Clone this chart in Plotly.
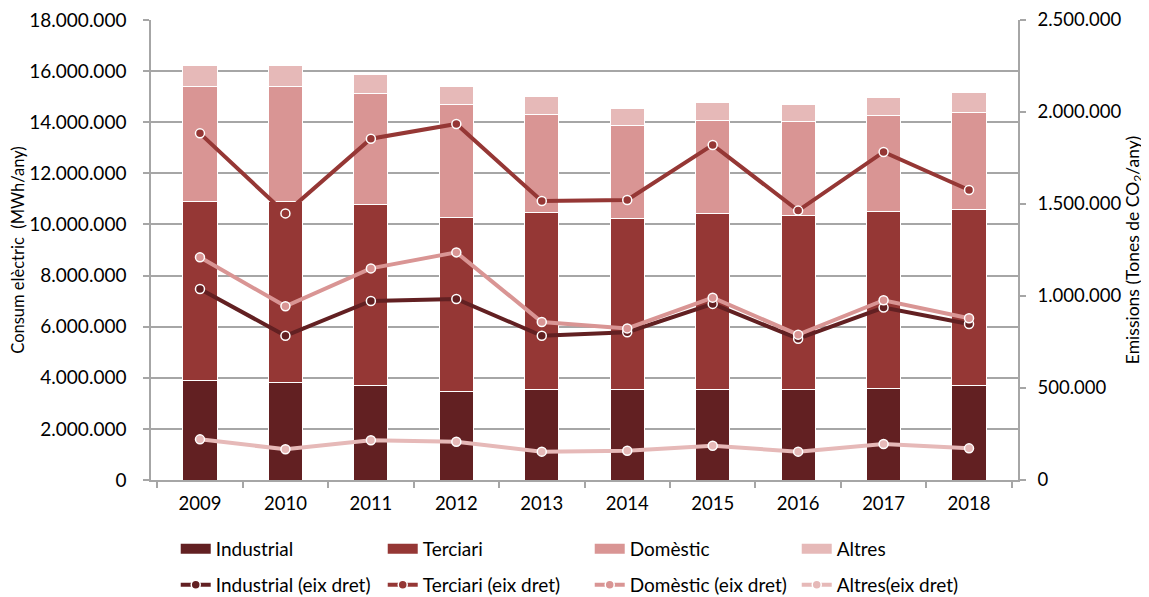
import plotly.graph_objects as go

# --- dades -------------------------------------------------
years = ["2009", "2010", "2011", "2012", "2013", "2014", "2015", "2016", "2017", "2018"]

# consum elèctric (MWh/any), barres apilades
industrial = [3880000, 3800000, 3690000, 3450000, 3550000, 3530000, 3530000, 3530000, 3570000, 3690000]
terciari   = [7000000, 7090000, 7080000, 6840000, 6900000, 6720000, 6890000, 6810000, 6920000, 6900000]
domestic   = [4530000, 4520000, 4370000, 4410000, 3860000, 3630000, 3660000, 3690000, 3780000, 3810000]
altres     = [810000, 810000, 740000, 700000, 700000, 660000, 710000, 650000, 700000, 750000]

# emissions (tones CO2/any), eix dret
industrial_em = [1038000, 784000, 973000, 984000, 784000, 803000, 957000, 768000, 937000, 848000]
terciari_em   = [1884000, 1449000, 1855000, 1935000, 1516000, 1522000, 1821000, 1464000, 1783000, 1576000]
domestic_em   = [1210000, 944000, 1150000, 1237000, 859000, 824000, 991000, 790000, 977000, 879000]
altres_em     = [221000, 167000, 216000, 208000, 154000, 159000, 186000, 154000, 196000, 172000]

bar_names = ["Industrial", "Terciari", "Domèstic", "Altres"]
line_names = ["Industrial (eix dret)", "Terciari (eix dret)", "Domèstic (eix dret)", "Altres(eix dret)"]
colors = ["#622022", "#953735", "#D99594", "#E6B9B8"]

FONT = "Lato"
AXIS_GRAY = "#A6A6A6"

fig = go.Figure()

# barres apilades (sense llegenda pròpia: la llegenda va amb traces de mostra)
for name, vals, c in zip(bar_names, [industrial, terciari, domestic, altres], colors):
    fig.add_trace(go.Bar(
        x=years, y=vals, name=name, width=0.4,
        marker=dict(color=c, line=dict(color="white", width=1)),
        showlegend=False,
    ))
    # mostra de llegenda: rectangle ample com a Excel
    fig.add_trace(go.Scatter(
        x=[None], y=[None], mode="lines", name=name,
        line=dict(color=c, width=10), legend="legend",
    ))

# línies d'emissions a l'eix dret
for name, vals, c in zip(line_names, [industrial_em, terciari_em, domestic_em, altres_em], colors):
    fig.add_trace(go.Scatter(
        x=years, y=vals, name=name, yaxis="y2",
        mode="lines+markers",
        line=dict(color=c, width=4),
        marker=dict(size=9, color=c, line=dict(color="white", width=1.5)),
        legend="legend2",
    ))

# la pàgina té 8px de marge al body -> figura una mica més petita
fig.update_layout(
    barmode="stack",
    width=1141, height=589,
    margin=dict(l=143, r=131, t=12, b=117, autoexpand=False),
    plot_bgcolor="white", paper_bgcolor="white",
    separators=",.",
    font=dict(family=FONT, size=19, color="black"),
    xaxis=dict(
        type="category", automargin=False,
        showline=True, linecolor=AXIS_GRAY, linewidth=1.5,
        ticks="outside", tickson="boundaries", ticklen=6, tickcolor=AXIS_GRAY, tickwidth=1.5,
        showgrid=False, tickfont=dict(size=18.5), ticklabelstandoff=6,
    ),
    yaxis=dict(
        range=[0, 18000000], dtick=2000000, tickformat=",d", automargin=False,
        showgrid=True, gridcolor=AXIS_GRAY, gridwidth=1.5, zeroline=False,
        showline=True, linecolor=AXIS_GRAY, linewidth=1.5,
        ticks="outside", ticklen=6, tickcolor=AXIS_GRAY, tickwidth=1.5,
        tickfont=dict(size=19), ticklabelstandoff=13, ticklabeloverflow="allow",
        title=dict(text="Consum elèctric  (MWh/any)", font=dict(size=16.5), standoff=10),
    ),
    yaxis2=dict(
        overlaying="y", side="right", automargin=False,
        range=[0, 2500000], dtick=500000, tickformat=",d",
        showgrid=False, zeroline=False,
        showline=True, linecolor=AXIS_GRAY, linewidth=1.5,
        ticks="outside", ticklen=6, tickcolor=AXIS_GRAY, tickwidth=1.5,
        tickfont=dict(size=18.5), ticklabelstandoff=8, ticklabeloverflow="allow",
        title=dict(text="Emissions (Tones de CO<sub>2</sub>/any)", font=dict(size=17.5), standoff=0),
    ),
    legend=dict(
        orientation="h", xref="container", yref="container", traceorder="normal",
        x=0.147, y=0.0815, xanchor="left", yanchor="middle",
        entrywidth=162, font=dict(size=19), bgcolor="rgba(0,0,0,0)",
    ),
    legend2=dict(
        orientation="h", xref="container", yref="container", traceorder="normal",
        x=0.147, y=0.0204, xanchor="left", yanchor="middle",
        entrywidth=162, font=dict(size=19), bgcolor="rgba(0,0,0,0)",
    ),
)

fig.write_html("out.html")
